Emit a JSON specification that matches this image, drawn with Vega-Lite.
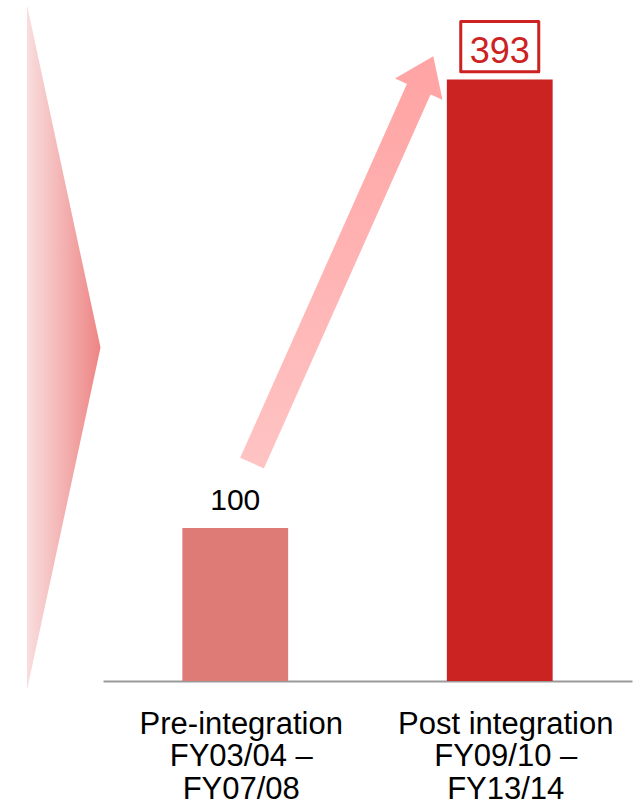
{
  "$schema": "https://vega.github.io/schema/vega-lite/v6.json",
  "autosize": "none",
  "padding": {"left": 103, "right": 9, "top": 0, "bottom": 131},
  "width": 529,
  "height": 681,
  "background": "#ffffff",
  "config": {"view": {"stroke": null}, "font": "Liberation Sans"},
  "datasets": {
    "bars": [
      {"period": "Pre-integration|FY03/04 –|FY07/08", "value": 100},
      {"period": "Post integration|FY09/10 –|FY13/14", "value": 393}
    ],
    "chevron": [
      {"x": -0.1437, "x2": -0.1437, "v": 441.7},
      {"x": -0.0047, "x2": -0.1437, "v": 217.9},
      {"x": -0.1437, "x2": -0.1437, "v": -5.9}
    ],
    "shaft": [
      {"x": 0.2817, "v": 142.4},
      {"x": 0.6000, "v": 389.1}
    ],
    "head": [
      {"x": 0.6106, "v": 397.5}
    ]
  },
  "resolve": {"scale": {"x": "independent", "color": "independent"}, "axis": {"x": "independent"}},
  "layer": [
    {
      "data": {"name": "chevron"},
      "mark": {
        "type": "area",
        "orient": "horizontal",
        "fill": {
          "gradient": "linear", "x1": 0, "y1": 0, "x2": 1, "y2": 0,
          "stops": [
            {"offset": 0, "color": "#f9dede"},
            {"offset": 1, "color": "#ee8484"}
          ]
        }
      },
      "encoding": {
        "y": {"field": "v", "type": "quantitative", "scale": {"domain": [0, 445], "nice": false}, "axis": null},
        "x": {"field": "x", "type": "quantitative", "scale": {"domain": [0, 1], "nice": false, "zero": false}, "axis": null},
        "x2": {"field": "x2"}
      }
    },
    {
      "data": {"name": "bars"},
      "encoding": {
        "x": {
          "field": "period", "type": "nominal", "sort": null,
          "scale": {"paddingInner": 0.6, "paddingOuter": 0.3},
          "axis": {
            "title": null, "labelAngle": 0, "ticks": false,
            "domainColor": "#9a9a9a", "domainWidth": 2,
            "labelExpr": "split(datum.label, '|')",
            "labelFont": "Liberation Sans", "labelFontSize": 31,
            "labelColor": "#000000", "labelLineHeight": 32.5,
            "labelPadding": 28, "labelOffset": 6, "labelLimit": 0
          }
        },
        "y": {"field": "value", "type": "quantitative", "scale": {"domain": [0, 445], "nice": false}, "axis": null}
      },
      "layer": [
        {
          "mark": {"type": "bar"},
          "encoding": {
            "color": {
              "field": "period", "type": "nominal", "legend": null,
              "scale": {
                "domain": ["Pre-integration|FY03/04 –|FY07/08", "Post integration|FY09/10 –|FY13/14"],
                "range": ["#df7b77", "#cb2321"]
              }
            }
          }
        },
        {
          "transform": [{"filter": "datum.value == 393"}],
          "mark": {
            "type": "point", "filled": true, "fill": "#ffffff", "stroke": "#cc2222",
            "strokeWidth": 3, "strokeJoin": "round", "opacity": 1,
            "shape": "M-1,-0.645H1V0.645H-1Z", "size": 6084, "yOffset": -33
          }
        },
        {
          "transform": [{"filter": "datum.value == 393"}],
          "mark": {
            "type": "text", "font": "Liberation Sans", "fontSize": 36, "color": "#cc2222",
            "baseline": "alphabetic", "align": "center", "dy": -16.3
          },
          "encoding": {"text": {"field": "value", "type": "quantitative"}}
        },
        {
          "transform": [{"filter": "datum.value == 100"}],
          "mark": {
            "type": "text", "font": "Liberation Sans", "fontSize": 30, "color": "#000000",
            "baseline": "alphabetic", "align": "center", "dy": -18.3
          },
          "encoding": {"text": {"field": "value", "type": "quantitative"}}
        }
      ]
    },
    {
      "data": {"name": "shaft"},
      "mark": {
        "type": "line", "strokeWidth": 26, "strokeCap": "butt",
        "stroke": {
          "gradient": "linear", "x1": 0, "y1": 1, "x2": 0, "y2": 0,
          "stops": [
            {"offset": 0, "color": "#ffc3c3"},
            {"offset": 1, "color": "#ffa5a5"}
          ]
        }
      },
      "encoding": {
        "x": {"field": "x", "type": "quantitative", "scale": {"domain": [0, 1], "nice": false, "zero": false}, "axis": null},
        "y": {"field": "v", "type": "quantitative", "scale": {"domain": [0, 445], "nice": false}, "axis": null}
      }
    },
    {
      "data": {"name": "head"},
      "mark": {
        "type": "point", "filled": true, "fill": "#ffa5a5", "opacity": 1,
        "shape": "M-1,0.69L0,-0.69L1,0.69Z", "size": 2704, "angle": 24, "strokeWidth": 0
      },
      "encoding": {
        "x": {"field": "x", "type": "quantitative", "scale": {"domain": [0, 1], "nice": false, "zero": false}, "axis": null},
        "y": {"field": "v", "type": "quantitative", "scale": {"domain": [0, 445], "nice": false}, "axis": null}
      }
    }
  ]
}
